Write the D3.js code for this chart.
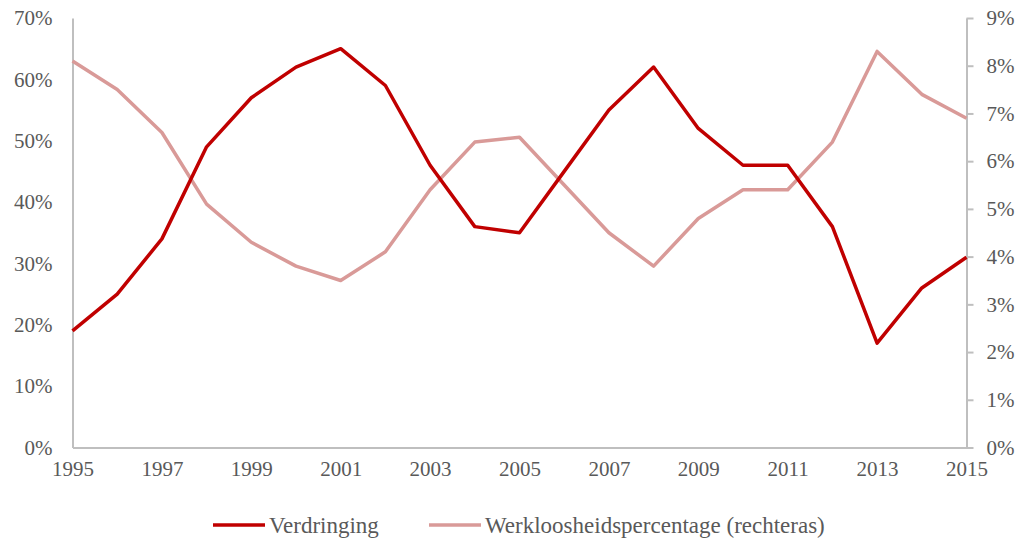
<!DOCTYPE html>
<html>
<head>
<meta charset="utf-8">
<script src="https://cdn.jsdelivr.net/npm/d3@7"></script>
<style>
  body { margin: 0; background: #fff; }
  text { font-family: "Liberation Serif", serif; fill: #595959; }
</style>
</head>
<body>
<svg width="1024" height="543"></svg>
<script>
const years = d3.range(1995, 2016);
const verdringing = [19, 25, 34, 49, 57, 62, 65, 59, 46, 36, 35, 45, 55, 62, 52, 46, 46, 36, 17, 26, 31];
const werkloosheid = [8.1, 7.5, 6.6, 5.1, 4.3, 3.8, 3.5, 4.1, 5.4, 6.4, 6.5, 5.5, 4.5, 3.8, 4.8, 5.4, 5.4, 6.4, 8.3, 7.4, 6.9];
const leftTicks = [0, 10, 20, 30, 40, 50, 60, 70];
const rightTicks = [0, 1, 2, 3, 4, 5, 6, 7, 8, 9];
const xTicks = [1995, 1997, 1999, 2001, 2003, 2005, 2007, 2009, 2011, 2013, 2015];

const svg = d3.select("svg");
const plotLeft = 72.5, plotRight = 966.5, plotTop = 18, plotBottom = 447.5;
const axisColor = "#bfbfbf";

const x = d3.scaleLinear().domain([1995, 2015]).range([plotLeft, plotRight]);
const yL = d3.scaleLinear().domain([0, 70]).range([plotBottom, plotTop]);
const yR = d3.scaleLinear().domain([0, 9]).range([plotBottom, plotTop]);

// left axis
const gl = svg.append("g").attr("transform", `translate(${plotLeft},0)`)
  .call(d3.axisLeft(yL).tickValues(leftTicks).tickSize(0).tickPadding(20).tickFormat(d => d + "%"));
// right axis
const gr = svg.append("g").attr("transform", `translate(${plotRight},0)`)
  .call(d3.axisRight(yR).tickValues(rightTicks).tickSizeInner(7).tickSizeOuter(0).tickPadding(13).tickFormat(d => d + "%"));
// bottom axis
const gb = svg.append("g").attr("transform", `translate(0,${plotBottom})`)
  .call(d3.axisBottom(x).tickValues(xTicks).tickSize(0).tickPadding(14).tickFormat(d3.format("d")));

[gl, gr, gb].forEach(g => {
  g.selectAll(".domain").attr("stroke", axisColor).attr("stroke-width", 2);
  g.selectAll(".tick line").attr("stroke", axisColor).attr("stroke-width", 2);
  g.selectAll("text").attr("font-size", 21).attr("font-family", "Liberation Serif").attr("fill", "#595959");
});

const lineL = d3.line().x((d, i) => x(years[i])).y(d => yL(d));
const lineR = d3.line().x((d, i) => x(years[i])).y(d => yR(d));

svg.append("path").datum(werkloosheid).attr("d", lineR)
  .attr("fill", "none").attr("stroke", "#d99a98").attr("stroke-width", 3.5).attr("stroke-linejoin", "round");
svg.append("path").datum(verdringing).attr("d", lineL)
  .attr("fill", "none").attr("stroke", "#c00000").attr("stroke-width", 3.5).attr("stroke-linejoin", "round");

// legend
const legend = [
  { label: "Verdringing", color: "#c00000", x: 213 },
  { label: "Werkloosheidspercentage (rechteras)", color: "#d99a98", x: 429 }
];
const lg = svg.append("g").selectAll("g").data(legend).join("g")
  .attr("transform", d => `translate(${d.x},525)`);
lg.append("line").attr("x1", 0).attr("x2", 52).attr("stroke", d => d.color).attr("stroke-width", 3.5);
lg.append("text").attr("x", 56).attr("dy", "0.35em").attr("font-size", 23).text(d => d.label);
</script>
</body>
</html>
